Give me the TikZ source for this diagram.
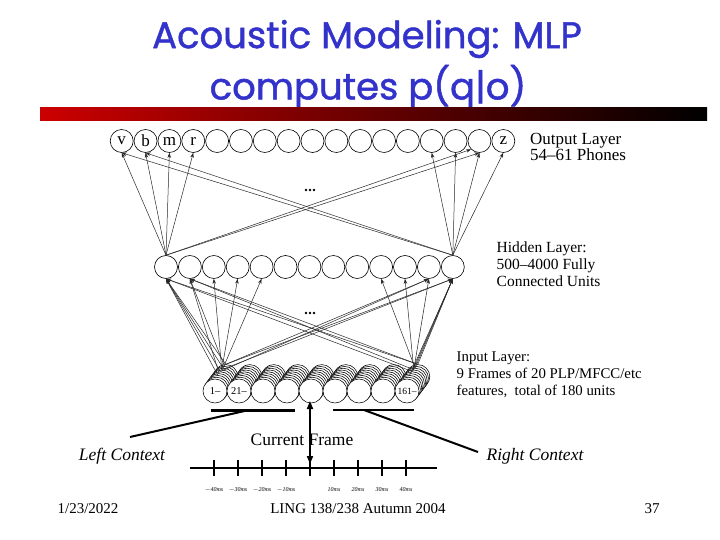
\documentclass[tikz,border=0pt]{standalone}
\usepackage{fontspec}
\setmainfont{Liberation Serif}
\newfontfamily\titlefont[FakeBold=1.2]{Poppins}
\usetikzlibrary{arrows.meta,calc}
\definecolor{titleblue}{RGB}{51,51,204}
\definecolor{barred}{RGB}{204,0,0}
\definecolor{conngray}{RGB}{40,40,40}
\tikzset{
  unit/.style={circle, draw=black, line width=0.6pt, minimum size=23pt, inner sep=0pt, fill=white, font=\fontsize{17}{17}\selectfont},
  insunit/.style={circle, draw=black, line width=0.55pt, minimum size=24pt, inner sep=0pt, fill=white, font=\fontsize{10.5}{10.5}\selectfont},
  conn/.style={draw=conngray, line width=0.5pt, -{Stealth[length=5pt,width=3.5pt]}},
  lab/.style={anchor=west, font=\fontsize{15.5}{17}\selectfont, align=left, inner sep=0pt},
  ctx/.style={font=\fontsize{17.5}{19}\selectfont\itshape, inner sep=0pt},
  thickline/.style={draw=black, line width=2pt},
  tick/.style={draw=black, line width=1.4pt},
  ticklab/.style={font=\fontsize{6}{6}\selectfont\itshape, inner sep=0pt},
  foot/.style={font=\fontsize{15}{15}\selectfont, inner sep=0pt},
  titletext/.style={font=\titlefont\fontsize{37}{42}\selectfont, text=titleblue, inner sep=0pt}
}
\begin{document}
\begin{tikzpicture}[x=1pt,y=-1pt]
\useasboundingbox (0,0) rectangle (720,540);
\fill[white] (0,0) rectangle (720,540);
% title
\node[titletext] (t1) at (367,39) {Acoustic Modeling: MLP};
\node[titletext] (t2) at (368,87) {computes p(q|o)};
% bar
\shade[left color=barred, right color=black] (40,108) rectangle (707,121);
% output layer
\node[unit] (o0) at (121.7,141) {v};
\node[unit] (o1) at ({121.7+23.85*1},141) {b};
\node[unit] (o2) at ({121.7+23.85*2},141) {m};
\node[unit] (o3) at ({121.7+23.85*3},141) {r};
\foreach \i in {4,...,15} \node[unit] (o\i) at ({121.7+23.85*\i},141) {};
\node[unit] (o16) at ({121.7+23.85*16},141) {z};
% hidden layer
\foreach \i in {0,...,12} \node[unit] (h\i) at ({166+23.9*\i},267) {};
% input layer stacks
\foreach \k in {8,...,1}
  \foreach \i in {0,...,8}
    \node[insunit] (s\i-\k) at ({215+24*\i+1.35*\k},{391-1.8*\k}) {};
\node[insunit] (s0-0) at (215,391) {1--};
\node[insunit] (s1-0) at (239,391) {21--};
\foreach \i in {2,...,7} \node[insunit] (s\i-0) at ({215+24*\i},391) {};
\node[insunit] (s8-0) at (407,391) {\fontsize{9.5}{9.5}\selectfont 161--};
% dots
\foreach \d in {-4,0,4} {
  \fill (310+\d,190) circle (1.4pt);
  \fill (310+\d,313) circle (1.4pt);
}
% hidden -> output
\foreach \j in {0,1,2,3} \draw[conn] (h0.north) -- (o\j.south);
\draw[conn] (h0.north) -- (o15.south);
\draw[conn] (h0.north) -- (o15.south west);
\foreach \j in {13,14,15,16} \draw[conn] (h12.north) -- (o\j.south);
\draw[conn] (h12.north) -- (o0.south);
\draw[conn] (h12.north) -- (o1.south);
% input -> hidden (left stack)
\foreach \k in {2,4,6,8} \draw[conn] (s0-\k.north) -- (h0.south);
\foreach \k in {3,7} \draw[conn] (s0-\k.north) -- (h1.south);
\draw[conn] (s0-5.north) -- (h2.south);
\draw[conn] (s0-5.north) -- (h3.south);
\draw[conn] (s0-6.north) -- (h4.south);
\foreach \k in {4,8} \draw[conn] (s0-\k.north) -- (h11.south);
\foreach \k in {5,8} \draw[conn] (s0-\k.north) -- (h12.south);
% input -> hidden (right stack)
\foreach \k in {2,4,6,8} \draw[conn] (s8-\k.north) -- (h12.south);
\draw[conn] (s8-5.north) -- (h11.south);
\draw[conn] (s8-5.north) -- (h10.south);
\draw[conn] (s8-6.north) -- (h9.south);
\foreach \k in {4,8} \draw[conn] (s8-\k.north) -- (h0.south);
\foreach \k in {5,8} \draw[conn] (s8-\k.north) -- (h1.south);
% right labels
\node[lab, font=\fontsize{17}{16.5}\selectfont] (lout) at (530,147) {Output Layer\\54--61 Phones};
\node[lab] (lhid) at (496.5,264) {Hidden Layer:\\500--4000 Fully\\Connected Units};
\node[lab, font=\fontsize{14.8}{17}\selectfont] (linp) at (456.5,375) {Input Layer:\\9 Frames of 20 PLP/MFCC/etc\\features,\ \ total of 180 units};
% context bars
\coordinate (lb1) at (211,410); \coordinate (lb2) at (295,410);
\coordinate (rb1) at (333,410); \coordinate (rb2) at (414,410);
\draw[line width=3pt] (lb1) -- (lb2);
\draw[line width=2.5pt] (rb1) -- (rb2);
\node[ctx] (lctx) at (122,456) {Left Context};
\node[ctx] (rctx) at (535,456) {Right Context};
\coordinate (lbm) at (249,410);
\coordinate (rbm) at (364,410);
\coordinate (lend) at (130,437);
\coordinate (rend) at (478,452);
\draw[thickline] (lbm) -- (lend);
\draw[thickline] (rbm) -- (rend);
% current frame
\node[font=\fontsize{17.5}{19}\selectfont, inner sep=0pt] (cf) at (302,440) {Current Frame};
\coordinate (cftop) at (310,401);
\coordinate (cfbot) at (310,464);
\draw[line width=1.8pt, {Triangle[length=8pt,width=6pt]}-{Triangle[length=8pt,width=6pt]}] (cftop) -- (cfbot);
% time axis
\draw[line width=1.2pt] (190,468) -- (437,468);
\foreach \t in {-4,...,4} \draw[tick] ({310+24*\t},460) -- ({310+24*\t},476);
\foreach \t/\l in {-4/{$-$40ms},-3/{$-$30ms},-2/{$-$20ms},-1/{$-$10ms},1/10ms,2/20ms,3/30ms,4/40ms}
  \node[ticklab] at ({310+24*\t},490) {\l};
% footer
\node[foot] (f1) at (88,509) {1/23/2022};
\node[foot] (f2) at (358,509) {LING 138/238 Autumn 2004};
\node[foot] (f3) at (652,509) {37};
\end{tikzpicture}
\end{document}
